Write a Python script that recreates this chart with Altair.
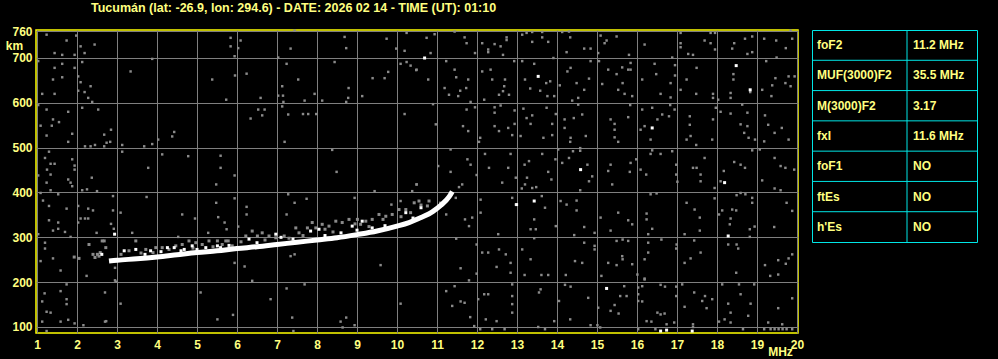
import altair as alt
import pandas as pd

TITLE = "Tucumán (lat: -26.9, lon: 294.6) - DATE: 2026 02 14 - TIME (UT): 01:10"

# Main F2 trace (frequency MHz, virtual height km)
trace_freq = [2.8, 3.0, 3.5, 4.0, 4.5, 5.0, 5.5, 6.0, 6.5, 7.0, 7.5, 8.0, 8.5,
              9.0, 9.5, 10.0, 10.3, 10.6, 10.9, 11.1, 11.3, 11.38]
trace_km = [247, 249, 252, 256, 261, 266, 270, 275, 279, 284, 289, 294, 299,
            306, 314, 325, 333, 344, 358, 372, 390, 402]

# Grey scattered echo just above the trace
echo_grey = [(2.45, 255), (2.51, 262), (2.58, 266), (2.68, 292), (2.72, 277), (2.30, 284),
             (1.93, 256), (2.05, 253), (2.63, 292), (3.30, 270), (3.47, 292), (3.72, 273),
             (3.97, 277), (4.13, 277), (4.30, 273), (4.47, 281), (4.63, 284), (4.80, 292),
             (4.97, 288), (5.13, 284), (5.30, 292), (5.51, 292), (5.63, 284), (5.72, 292),
             (5.78, 292), (5.88, 281), (6.22, 303), (6.38, 314), (6.51, 303), (6.63, 310),
             (6.80, 303), (6.97, 299), (7.18, 303), (7.47, 321), (7.55, 310), (7.76, 321),
             (7.88, 333), (7.97, 321), (8.13, 329), (8.30, 325), (8.47, 336), (8.63, 333),
             (8.80, 340), (9.01, 340), (9.09, 329), (9.22, 336), (9.38, 340), (9.55, 351),
             (9.72, 347), (9.88, 351), (10.05, 362), (10.22, 362), (10.34, 355), (10.43, 377),
             (10.55, 381), (10.80, 381), (10.76, 370), (3.60, 265), (4.90, 276), (6.10, 290),
             (7.30, 298), (8.40, 312), (9.30, 324), (2.40, 262), (2.55, 258), (3.10, 262),
             (3.90, 266), (5.40, 279), (6.70, 294), (7.65, 304), (8.20, 318), (8.95, 330),
             (9.65, 340), (10.10, 346), (10.60, 372)]

# White speckles in the echo
echo_white = [(3.18, 270), (3.47, 273), (3.84, 270), (4.26, 277), (4.43, 277), (4.68, 273),
              (4.88, 281), (5.22, 277), (5.51, 281), (5.59, 277), (6.97, 307), (7.84, 314),
              (8.05, 318), (8.88, 325), (9.13, 336), (9.38, 321), (10.22, 355), (2.94, 307),
              (2.62, 262), (6.30, 296), (7.10, 300), (10.60, 366), (3.70, 262), (4.10, 268),
              (4.60, 270), (5.00, 273), (5.80, 282), (6.50, 288), (7.40, 296), (8.20, 304),
              (8.60, 310), (9.00, 316), (9.70, 326), (10.40, 343)]

# Background noise: 1-6 MHz
noise_a = [(1.24, 752), (1.74, 739), (1.98, 750), (2.09, 726), (2.44, 730), (1.44, 711),
           (1.63, 707), (1.94, 707), (2.19, 711), (1.03, 693), (1.63, 687), (2.13, 691),
           (3.88, 698), (3.34, 670), (1.44, 678), (1.94, 678), (1.40, 652), (1.63, 657),
           (2.03, 659), (2.09, 646), (2.34, 637), (2.03, 627), (2.19, 624), (2.28, 611),
           (2.38, 602), (1.13, 620), (1.44, 620), (5.38, 652), (5.73, 607), (1.03, 595),
           (1.24, 585), (1.78, 580), (2.13, 589), (2.53, 585), (1.40, 563), (1.55, 557),
           (1.09, 549), (1.37, 549), (1.88, 531), (1.24, 527), (2.68, 529), (2.85, 540),
           (1.78, 513), (2.20, 503), (2.34, 503), (2.45, 506), (2.68, 503), (2.74, 511),
           (2.83, 513), (3.13, 506), (3.13, 491), (3.68, 503), (3.88, 508), (4.03, 518),
           (4.38, 525), (4.43, 535), (4.13, 485), (4.78, 481), (5.59, 482), (1.20, 477),
           (1.30, 491), (1.34, 464), (1.44, 464), (1.25, 451), (1.34, 440), (1.88, 474),
           (1.94, 460), (1.94, 451), (1.03, 438), (1.78, 429), (1.84, 422), (1.88, 414),
           (1.24, 422), (2.37, 433), (2.25, 407), (2.13, 405), (2.50, 403), (3.78, 455),
           (5.59, 455), (5.48, 418), (1.09, 399), (1.34, 405), (1.53, 396), (1.15, 382),
           (1.30, 370), (1.74, 364), (2.03, 370), (2.28, 364), (2.40, 360), (2.90, 392),
           (2.90, 360), (3.09, 355), (3.74, 390), (4.63, 351), (4.95, 342), (5.48, 377),
           (5.53, 345), (5.69, 333), (1.30, 338), (1.53, 333), (2.09, 342), (2.20, 342),
           (2.28, 342), (2.03, 333), (1.53, 319), (1.40, 315), (1.70, 312), (1.84, 301),
           (1.03, 307), (2.85, 330), (2.92, 319), (2.49, 310), (3.38, 310), (4.53, 301),
           (5.28, 310), (1.20, 288), (1.20, 275), (1.09, 247), (1.40, 253), (1.59, 226),
           (2.24, 214), (2.95, 204), (1.74, 195), (1.59, 180), (1.19, 175), (1.74, 162),
           (1.74, 151), (1.13, 157), (1.24, 134), (1.34, 132), (1.59, 112), (1.78, 116),
           (1.94, 108), (2.16, 104), (1.13, 112), (1.24, 91), (2.70, 177), (2.70, 112),
           (3.09, 152), (5.09, 177), (5.51, 117), (2.73, 113), (2.95, 232), (2.97, 201)]

# Background noise: 6-11 MHz
noise_b = [(5.84, 745), (5.84, 726), (6.03, 722), (6.09, 739), (5.94, 704), (7.44, 761),
           (7.34, 721), (7.03, 701), (7.24, 687), (6.24, 665), (5.95, 661), (7.53, 652),
           (7.13, 637), (7.03, 616), (7.15, 616), (7.16, 602), (7.13, 592), (7.28, 574),
           (6.59, 611), (6.53, 585), (6.69, 585), (6.63, 572), (6.34, 565), (7.69, 605),
           (7.65, 575), (7.78, 575), (7.94, 620), (7.98, 575), (8.13, 605), (8.44, 691),
           (8.69, 747), (8.73, 722), (8.79, 633), (8.78, 611), (9.13, 615), (9.39, 655),
           (9.69, 655), (9.78, 669), (9.74, 743), (9.98, 721), (10.19, 716), (10.24, 756),
           (10.09, 687), (10.24, 691), (10.34, 683), (10.48, 673), (10.19, 575), (8.73, 602),
           (7.19, 513), (8.38, 495), (8.49, 446), (5.94, 438), (10.49, 418), (10.38, 403),
           (9.44, 403), (7.28, 396), (7.44, 377), (7.74, 386), (8.94, 388), (5.94, 387),
           (6.24, 368), (6.24, 351), (7.24, 351), (10.09, 381), (9.86, 373), (5.74, 318),
           (6.03, 324), (5.94, 243), (6.19, 235), (6.38, 203), (7.34, 258), (7.44, 262),
           (9.59, 238), (7.24, 186), (7.69, 195), (6.84, 162), (5.90, 127), (7.38, 121),
           (8.59, 112), (8.73, 121), (8.94, 104), (10.09, 152), (7.41, 91), (8.64, 99),
           (10.94, 753), (10.74, 745), (10.84, 711), (10.49, 674), (10.78, 652), (10.90, 597),
           (10.97, 552), (10.49, 418)]

# Background noise: 11-15 MHz
noise_c = [(11.44, 759), (11.69, 746), (11.74, 733), (11.95, 711), (12.13, 733), (12.28, 719),
           (12.28, 713), (12.44, 731), (12.59, 726), (12.74, 746), (12.74, 740), (12.65, 707),
           (13.13, 752), (13.24, 756), (13.38, 758), (13.38, 736), (13.63, 746), (13.63, 758),
           (13.78, 736), (14.13, 758), (14.30, 759), (14.33, 746), (14.24, 713), (14.68, 721),
           (14.84, 721), (15.09, 750), (15.19, 733), (15.03, 711), (11.23, 693), (11.44, 674),
           (11.48, 657), (11.78, 652), (11.19, 633), (11.58, 627), (11.30, 618), (11.53, 615),
           (11.73, 633), (11.84, 602), (12.18, 607), (12.34, 674), (12.38, 652), (12.70, 652),
           (12.68, 637), (12.65, 626), (12.55, 618), (12.80, 618), (12.13, 670), (12.93, 693),
           (13.13, 693), (13.43, 687), (13.73, 644), (13.83, 648), (13.20, 652), (13.33, 632),
           (13.58, 627), (13.76, 615), (13.93, 615), (13.91, 700), (14.07, 639), (14.26, 670),
           (14.34, 678), (14.49, 644), (14.80, 654), (14.84, 693), (14.68, 629), (14.53, 611),
           (15.05, 693), (15.13, 642), (14.38, 605), (11.74, 585), (11.95, 590), (11.65, 548),
           (11.78, 537), (12.08, 522), (12.05, 513), (12.44, 590), (12.44, 548), (12.44, 578),
           (12.59, 594), (12.55, 537), (12.78, 544), (12.88, 528), (12.94, 583), (12.94, 553),
           (13.16, 587), (13.24, 566), (13.38, 572), (13.34, 553), (13.09, 526), (13.66, 522),
           (13.88, 528), (13.88, 553), (13.74, 589), (13.97, 575), (14.19, 563), (14.19, 544),
           (14.34, 522), (14.42, 566), (14.53, 596), (14.63, 574), (14.33, 513), (14.72, 526),
           (11.03, 459), (11.34, 496), (11.34, 446), (11.76, 474), (11.84, 462), (11.63, 418),
           (11.55, 412), (11.99, 439), (12.20, 486), (12.30, 455), (12.63, 422), (12.84, 486),
           (12.78, 455), (12.97, 433), (13.12, 409), (13.19, 462), (13.20, 418), (13.25, 433),
           (13.38, 410), (13.48, 412), (13.30, 470), (13.63, 486), (13.78, 446), (13.86, 429),
           (13.96, 474), (14.03, 496), (14.13, 466), (14.30, 477), (14.40, 492), (14.58, 499),
           (14.58, 493), (14.76, 462), (14.80, 425), (14.88, 436), (14.58, 405), (11.08, 377),
           (11.23, 351), (11.47, 388), (11.70, 340), (11.80, 325), (11.88, 344), (12.09, 384),
           (12.09, 355), (12.53, 307), (12.88, 388), (12.97, 373), (13.34, 318), (13.47, 318),
           (13.43, 340), (13.62, 392), (13.70, 366), (13.97, 325), (14.09, 381), (14.24, 373),
           (14.49, 382), (14.49, 360), (14.43, 305), (14.68, 323), (14.94, 310), (15.09, 344),
           (11.48, 297), (11.99, 284), (12.13, 266), (12.28, 266), (12.49, 234), (12.55, 273),
           (12.72, 262), (12.84, 243), (12.84, 221), (13.13, 273), (13.19, 216), (13.34, 251),
           (13.43, 298), (13.61, 216), (13.78, 216), (11.59, 231), (11.80, 204), (11.99, 219),
           (14.22, 216), (14.45, 247), (14.63, 243), (14.68, 288), (14.94, 281), (14.94, 273),
           (15.11, 214), (11.23, 180), (11.44, 191), (11.38, 147), (11.59, 157), (11.69, 154),
           (11.83, 122), (12.03, 162), (12.18, 173), (12.28, 173), (12.22, 117), (12.49, 113),
           (11.93, 102), (12.88, 195), (12.88, 169), (12.88, 151), (12.88, 132), (13.59, 184),
           (13.55, 177), (13.53, 100), (13.93, 113), (14.05, 158), (14.20, 194), (14.34, 190),
           (14.78, 165), (15.03, 143), (14.33, 117), (14.84, 104), (15.08, 99), (15.01, 104),
           (13.70, 95), (12.69, 95), (12.38, 95), (12.08, 95)]

# Background noise: 15-20 MHz
noise_d = [(15.24, 739), (15.49, 748), (16.19, 730), (17.09, 756), (17.09, 733), (17.09, 724),
           (17.28, 709), (17.40, 707), (17.69, 739), (17.84, 756), (17.95, 756), (17.84, 733),
           (17.95, 719), (18.43, 733), (18.38, 721), (18.70, 743), (18.88, 748), (18.88, 713),
           (18.76, 709), (19.18, 743), (19.48, 739), (19.72, 722), (19.84, 761), (19.88, 743),
           (15.80, 707), (16.88, 701), (19.49, 701), (15.28, 674), (15.49, 664), (15.63, 679),
           (15.84, 689), (15.84, 674), (15.78, 674), (15.64, 644), (15.53, 629), (15.69, 620),
           (15.88, 615), (16.13, 652), (16.44, 687), (16.48, 664), (16.59, 620), (16.84, 644),
           (16.84, 612), (16.95, 684), (16.95, 661), (17.09, 629), (17.24, 652), (17.49, 678),
           (17.48, 620), (17.90, 620), (17.90, 611), (18.03, 607), (18.34, 622), (18.34, 611),
           (18.41, 664), (18.41, 652), (18.83, 624), (19.13, 629), (19.23, 693), (19.36, 615),
           (19.38, 639), (19.46, 655), (19.71, 644), (19.79, 659), (19.84, 637), (19.94, 659),
           (15.34, 563), (15.44, 553), (15.44, 540), (15.44, 523), (15.53, 513), (15.78, 568),
           (15.83, 595), (16.13, 585), (16.19, 548), (16.09, 540), (16.34, 518), (16.38, 589),
           (16.51, 563), (16.63, 574), (16.80, 570), (16.83, 595), (16.94, 585), (17.32, 570),
           (17.32, 551), (17.34, 526), (17.24, 518), (17.48, 506), (17.88, 518), (17.90, 563),
           (17.97, 589), (18.09, 580), (18.34, 576), (18.63, 596), (18.76, 578), (18.76, 548),
           (18.59, 552), (18.79, 522), (18.68, 533), (18.95, 518), (19.20, 572), (19.28, 551),
           (19.44, 533), (19.62, 544), (19.79, 518), (19.18, 514), (15.28, 448), (15.34, 462),
           (15.38, 418), (15.84, 466), (15.82, 446), (15.98, 474), (16.09, 451), (16.23, 440),
           (16.34, 486), (16.38, 494), (16.59, 486), (16.88, 492), (16.98, 462), (16.98, 440),
           (17.01, 424), (17.40, 455), (17.49, 455), (17.59, 440), (17.59, 425), (17.69, 477),
           (17.94, 410), (18.09, 425), (18.17, 448), (18.43, 468), (18.59, 462), (18.70, 455),
           (18.88, 494), (19.13, 427), (19.07, 496), (19.44, 477), (19.59, 459), (19.71, 455),
           (19.93, 451), (19.59, 405), (19.44, 409), (15.53, 355), (15.78, 338), (15.88, 329),
           (15.34, 315), (16.24, 353), (16.24, 340), (16.34, 396), (16.49, 398), (16.38, 319),
           (16.28, 307), (17.24, 377), (17.44, 362), (17.57, 344), (17.57, 315), (17.19, 307),
           (17.94, 387), (18.05, 351), (18.13, 360), (18.32, 329), (18.38, 362), (18.48, 360),
           (18.34, 342), (18.49, 394), (18.59, 399), (18.71, 396), (18.88, 388), (18.88, 377),
           (18.82, 318), (18.94, 324), (19.74, 377), (19.88, 359), (19.43, 323), (15.49, 292),
           (15.64, 295), (15.78, 292), (15.63, 258), (15.64, 251), (15.49, 238), (15.28, 243),
           (15.88, 240), (16.28, 288), (16.28, 266), (16.19, 251), (16.61, 295), (16.99, 284),
           (16.98, 275), (17.34, 253), (17.19, 243), (17.43, 293), (17.59, 266), (18.28, 284),
           (18.49, 284), (18.53, 275), (18.82, 301), (19.20, 238), (19.33, 214), (19.53, 217),
           (19.72, 241), (19.79, 253), (19.88, 262), (19.53, 249), (18.48, 221), (16.01, 217),
           (16.19, 206), (15.44, 149), (15.34, 136), (15.54, 130), (15.58, 169), (15.68, 191),
           (15.74, 169), (16.03, 188), (16.03, 173), (16.03, 158), (16.13, 191), (16.19, 208),
           (16.13, 157), (16.24, 113), (16.36, 112), (16.51, 132), (16.59, 128), (16.69, 130),
           (16.74, 106), (16.93, 110), (16.70, 190), (16.59, 194), (16.98, 190), (16.98, 169),
           (17.13, 195), (17.19, 145), (17.43, 177), (17.63, 158), (17.70, 169), (17.74, 142),
           (17.88, 162), (18.05, 112), (18.19, 117), (18.13, 195), (18.28, 152), (18.34, 132),
           (18.34, 110), (18.55, 195), (18.59, 173), (18.65, 95), (18.78, 125), (18.84, 152),
           (18.93, 195), (19.28, 110), (19.53, 142), (19.63, 106), (19.88, 164), (17.40, 106),
           (17.40, 100), (19.18, 95), (19.34, 95), (19.54, 95), (19.74, 95), (19.88, 95),
           (16.03, 95), (16.46, 95), (19.44, 95), (19.64, 95)]

# Isolated white noise dots
white_dots = [(10.69, 700), (13.53, 659), (14.59, 451), (12.99, 373), (13.43, 381),
              (15.24, 186), (18.48, 683), (18.83, 629), (16.38, 544), (18.19, 422),
              (18.28, 303), (16.59, 91), (16.74, 93), (17.38, 91)]

# Parameter table
param_names = ["foF2", "MUF(3000)F2", "M(3000)F2", "fxI", "foF1", "ftEs", "h'Es"]
param_values = ["11.2 MHz", "35.5 MHz", "3.17", "11.6 MHz", "NO", "NO", "NO"]

x_ticks = list(range(1, 21))
y_ticks = [100, 200, 300, 400, 500, 600, 700, 760]

# ---------------------------------------------------------------- style
BG = "#000000"
GRID = "#7f7f7f"
NOISE = "#8a8a8a"
YEL = "#ffff80"
BORDER = "#ffff00"
CYAN = "#00e6e6"
FONT = "Liberation Sans"
PW, PH = 762, 303

def pts(lst):
    return pd.DataFrame(lst, columns=["f", "km"])

noise_df = pts(noise_a + noise_b + noise_c + noise_d)
echo_g_df = pts(echo_grey)
echo_w_df = pts(echo_white + white_dots)
trace_df = pd.DataFrame({"f": trace_freq, "km": trace_km})

xscale = alt.Scale(domain=[0.975, 20.025], nice=False, zero=False)
yscale = alt.Scale(domain=[86.6, 762.45], nice=False, zero=False)

xaxis = alt.Axis(values=x_ticks, format="d", ticks=False, domain=False, grid=True,
                 gridColor=GRID, gridWidth=1, gridOpacity=1,
                 labelColor=YEL, labelFont=FONT, labelFontSize=12, labelFontWeight="bold",
                 labelPadding=6, labelFlush=False, labelOverlap=False, labelBound=False,
                 title="MHz", titleColor=YEL, titleFont=FONT, titleFontSize=12,
                 titleFontWeight="bold", titleX=744, titleY=22, titleAlign="center",
                 titleBaseline="alphabetic")
yaxis = alt.Axis(values=y_ticks, ticks=False, domain=False, grid=True,
                 gridColor=GRID, gridWidth=1, gridOpacity=1,
                 labelColor=YEL, labelFont=FONT, labelFontSize=12, labelFontWeight="bold",
                 labelPadding=4, labelFlush=False, labelOverlap=False, labelBound=False,
                 labelBaseline="middle",
                 title="km", titleColor=YEL, titleFont=FONT, titleFontSize=12,
                 titleFontWeight="bold", titleAngle=0, titleX=-22, titleY=19,
                 titleAlign="center", titleBaseline="alphabetic")

X = alt.X("f:Q", scale=xscale, axis=xaxis)
Y = alt.Y("km:Q", scale=yscale, axis=yaxis)

noise = alt.Chart(noise_df).mark_square(size=6, color=NOISE, opacity=1).encode(x=X, y=Y)
echo_g = alt.Chart(echo_g_df).mark_square(size=9, color=NOISE, opacity=1).encode(x=X, y=Y)
trace = alt.Chart(trace_df).mark_line(color="#ffffff", strokeWidth=5,
                                      interpolate="monotone").encode(x=X, y=Y)
echo_w = alt.Chart(echo_w_df).mark_square(size=9, color="#ffffff", opacity=1).encode(x=X, y=Y)

plot = alt.layer(noise, echo_g, trace, echo_w).properties(
    width=PW, height=PH,
    view=alt.ViewBackground(fill=BG, stroke=BORDER, strokeWidth=1.5),
    title=alt.TitleParams(TITLE, anchor="start", frame="group", dx=55, offset=1,
                          color=YEL, font=FONT, fontSize=12.5, fontWeight="bold",
                          baseline="alphabetic"),
)

# ---------------------------------------------------------------- table
n = len(param_names)
tab_df = pd.DataFrame({"row": list(range(n)), "name": param_names, "value": param_values})
tab_df["ym"] = tab_df["row"] + 0.5
lines_df = pd.DataFrame({"row": list(range(1, n))})
TW, TH = 165, 212
COLSPLIT = 95
tx = alt.Scale(domain=[0, TW], nice=False, zero=False)
ty = alt.Scale(domain=[0, n], nice=False, zero=False, reverse=True)

hlines = alt.Chart(lines_df).mark_rule(color=CYAN, strokeWidth=1).encode(
    y=alt.Y("row:Q", scale=ty, axis=None),
    x=alt.value(0), x2=alt.value(TW))
vline = alt.Chart(pd.DataFrame({"c": [COLSPLIT]})).mark_rule(color=CYAN, strokeWidth=1).encode(
    x=alt.X("c:Q", scale=tx, axis=None), y=alt.value(0), y2=alt.value(TH))
names = alt.Chart(tab_df).mark_text(align="left", baseline="middle", color=YEL, font=FONT,
                                    fontSize=12, fontWeight="bold", dx=5).encode(
    x=alt.value(0), y=alt.Y("ym:Q", scale=ty, axis=None), text="name:N")
values = alt.Chart(tab_df).mark_text(align="left", baseline="middle", color=YEL, font=FONT,
                                     fontSize=12, fontWeight="bold", dx=COLSPLIT + 6).encode(
    x=alt.value(0), y=alt.Y("ym:Q", scale=ty, axis=None), text="value:N")

table = alt.layer(hlines, vline, names, values).properties(
    width=TW, height=TH,
    view=alt.ViewBackground(fill=BG, stroke=CYAN, strokeWidth=1),
)

chart = alt.hconcat(plot, table, spacing=14, bounds="flush").properties(
    background=BG,
    padding={"left": 36, "top": 30, "right": 962, "bottom": 329},
    autosize=alt.AutoSizeParams(type="none"),
).configure_view(strokeWidth=1)

chart.save("out.html", embed_options={"renderer": "svg", "actions": False})
